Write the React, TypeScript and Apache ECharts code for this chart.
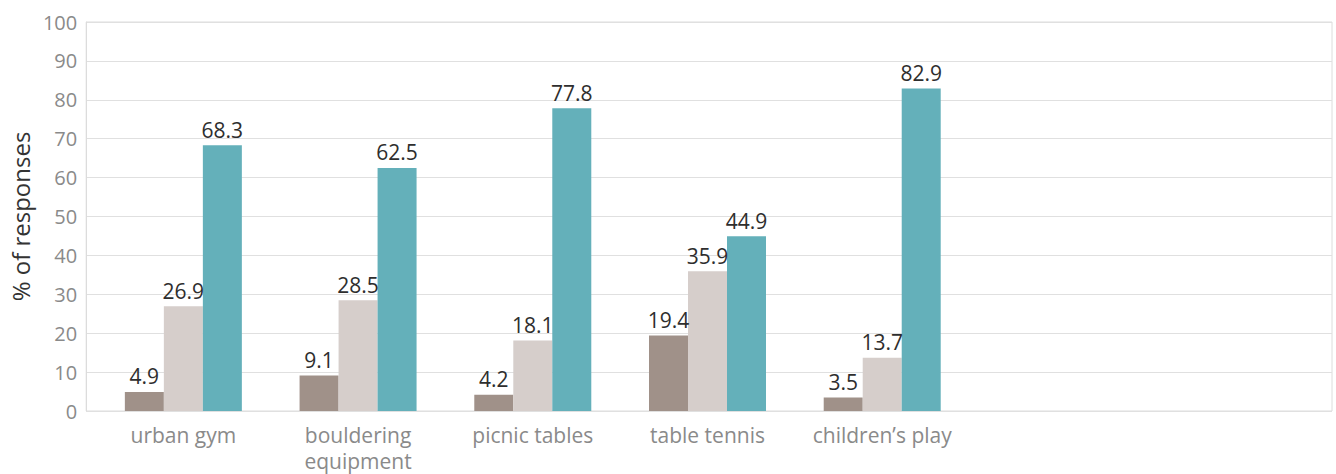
import React, { useEffect, useRef } from "react";
import * as echarts from "echarts";

const categories = ["urban gym", "bouldering\nequipment", "picnic tables", "table tennis", "children’s play", "", ""];
const seriesA = [4.9, 9.1, 4.2, 19.4, 3.5, null, null];
const seriesB = [26.9, 28.5, 18.1, 35.9, 13.7, null, null];
const seriesC = [68.3, 62.5, 77.8, 44.9, 82.9, null, null];
const colors = ["#a09189", "#d6cecb", "#64b0ba"];
const yTitle = "% of responses";

export default function App() {
  const ref = useRef<HTMLDivElement>(null);
  useEffect(() => {
    if (!ref.current) return;
    const chart = echarts.init(ref.current, null, { renderer: "svg" });
    const font = "'Open Sans', Roboto, 'DejaVu Sans', sans-serif";
    const mk = (data: (number | null)[], color: string) => ({
      type: "bar",
      xAxisIndex: 1,
      yAxisIndex: 1,
      data,
      barWidth: 39,
      barGap: "0%",
      itemStyle: { color },
      label: {
        show: true,
        position: "top",
        distance: 5,
        color: "#2e2e2e",
        fontSize: 21,
        fontFamily: font,
        formatter: (p: any) => (p.value == null ? "" : Number(p.value).toFixed(1)),
      },
    });
    chart.setOption({
      animation: false,
      backgroundColor: "#ffffff",
      grid: [
        {
          left: 85,
          right: 4,
          top: 22,
          bottom: 63,
          show: true,
          borderColor: "#dcdcdc",
          borderWidth: 1,
          containLabel: false,
        },
        {
          left: 96,
          right: 17,
          top: 22,
          bottom: 63,
          containLabel: false,
        },
      ],
      xAxis: [
        {
          type: "category",
          gridIndex: 0,
          data: categories,
          show: false,
        },
        {
          type: "category",
          gridIndex: 1,
          data: categories,
          axisTick: { show: false },
          axisLine: { show: false },
          axisLabel: {
            interval: 0,
            color: "#8a8a8a",
            fontSize: 21,
            fontFamily: font,
            margin: 11,
            lineHeight: 26,
          },
        },
      ],
      yAxis: [
        {
          type: "value",
          gridIndex: 0,
          min: 0,
          max: 100,
          interval: 10,
          name: yTitle,
          nameLocation: "middle",
          nameGap: 47,
          nameTextStyle: { color: "#333333", fontSize: 24, fontFamily: font },
          axisLine: { show: true, lineStyle: { color: "#dcdcdc", width: 1 } },
          axisTick: { show: false },
          axisLabel: { color: "#8a8a8a", fontSize: 20, fontFamily: font, margin: 9 },
          splitLine: { lineStyle: { color: "#e0e0e0", width: 1 } },
        },
        {
          type: "value",
          gridIndex: 1,
          min: 0,
          max: 100,
          interval: 10,
          show: false,
          splitLine: { show: false },
        },
      ],
      series: [mk(seriesA, colors[0]), mk(seriesB, colors[1]), mk(seriesC, colors[2])],
    });
    return () => chart.dispose();
  }, []);
  return (
    <div
      ref={ref}
      style={{ position: "fixed", left: 0, top: 0, width: 1336, height: 474, background: "#fff" }}
    />
  );
}
